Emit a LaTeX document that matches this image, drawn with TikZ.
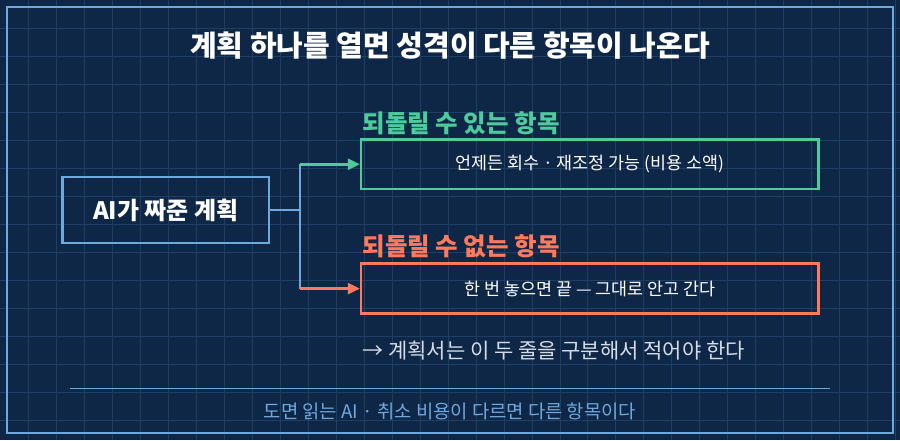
\documentclass[tikz,border=0pt]{standalone}
\usepackage{fontspec}
\setmainfont{Noto Sans CJK KR}
\usetikzlibrary{positioning,arrows.meta}
\definecolor{bgnavy}{HTML}{0F2747}
\definecolor{gridblue}{HTML}{1F3E66}
\definecolor{lineblue}{HTML}{6FA8DC}
\definecolor{okgreen}{HTML}{4ECB9C}
\definecolor{badred}{HTML}{FF7A5C}
\definecolor{softgray}{HTML}{D5DCE6}

\begin{document}
\begin{tikzpicture}[x=1pt,y=-1pt,
  box/.style={draw, line width=2.5pt, minimum height=50pt, inner sep=0pt},
  tag/.style={anchor=west, font=\bfseries\fontsize{24.5}{28}\selectfont},
  link/.style={line width=2.5pt, -{Triangle[length=12pt,width=11pt]}}]

\fill[bgnavy] (0,0) rectangle (900,440);
\foreach \gx in {28,56,...,896} \draw[gridblue, line width=.8pt] (\gx,0) -- (\gx,440);
\foreach \gy in {28,56,...,436} \draw[gridblue, line width=.8pt] (0,\gy) -- (900,\gy);
\draw[lineblue, line width=2pt] (7,7) rectangle (893,433);

\node (title) at (450,45) [text=white, font=\bfseries\fontsize{29}{32}\selectfont] {계획 하나를 열면 성격이 다른 항목이 나온다};

\node (plan) at (165.5,210) [box, draw=lineblue, minimum width=207pt, minimum height=66pt, text=white, font=\bfseries\fontsize{24}{28}\selectfont] {AI가 짜준 계획};
\node (undo) at (590,164) [box, draw=okgreen, minimum width=458pt, text=white, font=\fontsize{17.4}{20}\selectfont] {언제든 회수 · 재조정 가능 (비용 소액)};
\node (keep) at (590,288.5) [box, draw=badred, minimum width=458pt, text=white, font=\fontsize{17.4}{20}\selectfont] {한 번 놓으면 끝 — 그대로 안고 간다};
\node (undotag) at (359,123) [tag, text=okgreen] {되돌릴 수 있는 항목};
\node (keeptag) at (359,246) [tag, text=badred] {되돌릴 수 없는 항목};

\coordinate (fork) at (300,210);
\coordinate (up) at (300,164);
\coordinate (down) at (300,288.5);
\draw[lineblue, line width=2.5pt] (plan.east) -- (fork) (up) -- (down);
\draw[link, okgreen] (up) -- (undo.west);
\draw[link, badred] (down) -- (keep.west);

\node (note) at (359,350) [anchor=west, text=softgray, font=\fontsize{21}{24}\selectfont] {→ 계획서는 이 두 줄을 구분해서 적어야 한다};

\coordinate (rulel) at (70,388);
\coordinate (ruler) at (830,388);
\draw[lineblue, line width=1pt] (rulel) -- (ruler);
\node (foot) at (450,411) [text=lineblue, font=\fontsize{18.8}{22}\selectfont] {도면 읽는 AI · 취소 비용이 다르면 다른 항목이다};

\end{tikzpicture}
\end{document}
